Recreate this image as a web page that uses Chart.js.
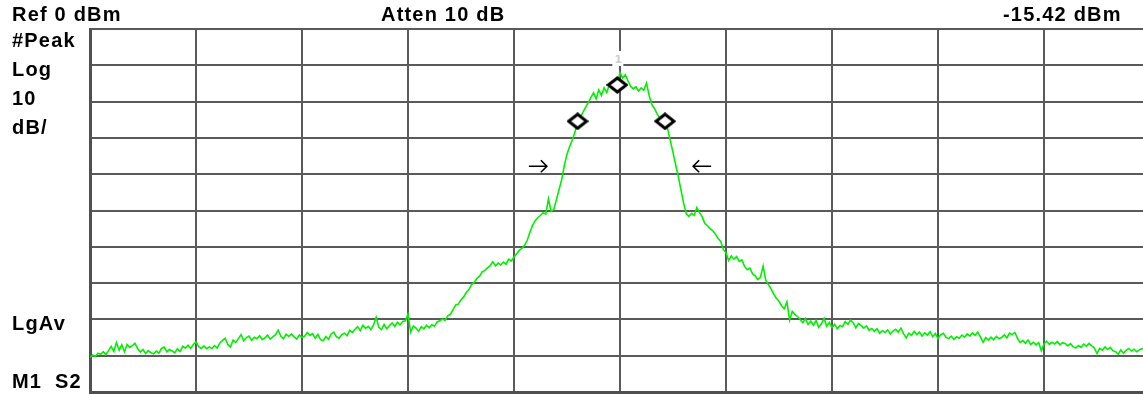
<!DOCTYPE html>
<html>
<head>
<meta charset="utf-8">
<title>Spectrum trace</title>
<script src="https://cdn.jsdelivr.net/npm/chart.js@4.4.1/dist/chart.umd.min.js"></script>
<style>
  html, body { margin: 0; padding: 0; background: #ffffff; overflow: hidden; }
  #wrap { position: relative; width: 1160px; height: 402px; }
  canvas { display: block; }
</style>
</head>
<body>
<div id="wrap"><canvas id="spec" width="1160" height="402"></canvas></div>
<script>
// Display settings: reference level at the top graticule, 10 dB per division
const refLevelDbm = 0;
const dbPerDiv = 10;
const verticalDivs = 10;
const horizontalDivs = 10;
const tracePoints = 401;

// Trace amplitude (dBm) for each of the 401 sweep points, left to right
const traceDbm = [
  // division 1
  -90.5, -89.8, -90.2, -89.3, -89.6, -88.9, -89.7, -88.6, -87.4, -88.8,
  -86.4, -88.5, -87.0, -88.9, -86.9, -87.7, -87.2, -86.6, -88.1, -89.0,
  -88.3, -89.4, -88.6, -89.2, -89.5, -88.7, -89.3, -88.0, -87.6, -88.9,
  -88.3, -88.7, -89.2, -88.1, -88.8, -87.4, -87.9, -87.1, -88.0, -86.9,
  // division 2
  -86.2, -87.5, -88.0, -87.3, -88.1, -87.6, -88.0, -87.2, -87.9, -86.5,
  -85.8, -85.2, -86.9, -87.6, -85.7, -86.4, -85.3, -84.2, -85.9, -85.0,
  -84.6, -85.8, -84.9, -85.3, -84.5, -85.6, -85.1, -84.3, -85.4, -84.8,
  -84.2, -83.0, -84.6, -85.3, -84.1, -84.7, -84.0, -84.8, -85.4, -84.3,
  // division 3
  -85.0, -84.6, -83.6, -84.4, -83.9, -85.2, -84.1, -85.6, -85.9, -84.7,
  -85.5, -84.0, -83.5, -84.8, -85.2, -84.2, -83.8, -84.5, -83.0, -83.6,
  -82.7, -82.0, -83.1, -81.6, -82.5, -81.9, -82.8, -81.5, -79.4, -82.2,
  -82.8, -81.4, -82.6, -81.7, -81.0, -81.9, -80.8, -81.5, -80.6, -80.4,
  // division 4
  -78.6, -83.5, -81.8, -82.4, -83.3, -82.0, -82.6, -81.6, -82.3, -81.5,
  -81.9, -80.7, -80.4, -79.9, -80.3, -79.0, -78.6, -77.3, -76.0, -75.8,
  -74.6, -73.8, -72.6, -71.8, -70.4, -69.8, -68.7, -68.1, -66.9, -66.5,
  -65.8, -65.2, -64.1, -65.3, -64.5, -65.0, -64.2, -64.8, -63.4, -63.9,
  // division 5
  -62.8, -61.9, -61.0, -60.4, -59.6, -58.2, -56.0, -54.1, -52.8, -52.0,
  -51.3, -50.6, -51.0, -46.8, -50.2, -49.8, -47.0, -44.2, -41.5, -37.6,
  -34.5, -32.4, -30.6, -28.4, -25.42, -24.3, -23.0, -21.6, -20.3, -18.9,
  -17.6, -19.2, -16.8, -18.3, -16.2, -17.5, -15.3, -16.4, -14.2, -15.42,
  // division 6
  -12.0, -13.5, -12.6, -14.3, -15.8, -16.5, -15.9, -17.1, -16.2, -16.9,
  -14.9, -18.3, -20.8, -21.9, -23.4, -24.5, -25.0, -25.42, -27.6, -30.8,
  -34.0, -37.4, -40.6, -44.3, -47.9, -50.9, -51.6, -50.8, -51.3, -49.2,
  -50.6, -51.7, -53.6, -54.2, -55.0, -55.6, -56.5, -57.7, -58.5, -60.8,
  // division 7
  -61.6, -63.8, -62.5, -63.4, -62.7, -64.0, -63.6, -65.4, -66.3, -65.9,
  -67.4, -68.0, -69.0, -68.4, -65.3, -69.2, -70.4, -71.6, -73.0, -74.2,
  -75.0, -76.3, -77.1, -75.2, -80.2, -77.8, -78.6, -79.2, -80.0, -80.9,
  -79.8, -81.4, -80.5, -81.6, -80.3, -82.2, -81.2, -79.7, -81.9, -80.8,
  // division 8
  -82.3, -81.3, -82.6, -81.7, -82.0, -80.6, -81.4, -80.2, -80.9, -82.3,
  -81.1, -81.7, -82.4, -81.8, -83.0, -82.5, -83.3, -82.6, -83.8, -83.1,
  -83.6, -82.9, -84.0, -83.2, -82.7, -83.5, -82.4, -83.9, -85.1, -83.8,
  -84.4, -83.3, -84.2, -83.5, -84.6, -83.7, -84.3, -83.4, -84.8, -83.9,
  // division 9
  -85.3, -84.2, -83.8, -84.9, -85.3, -84.6, -85.5, -84.8, -85.2, -84.3,
  -84.9, -84.0, -84.6, -83.7, -84.4, -83.5, -84.8, -86.3, -85.0, -85.7,
  -84.9, -85.6, -84.7, -85.3, -85.0, -84.3, -85.1, -83.8, -84.2, -83.6,
  -85.2, -86.4, -85.8, -86.6, -85.7, -86.9, -86.3, -87.0, -86.4, -88.6,
  // division 10
  -86.8, -86.0, -86.9, -86.3, -86.8, -86.1, -87.0, -86.4, -86.6, -87.3,
  -86.7, -87.5, -87.9, -87.2, -87.7, -86.8, -87.4, -86.6, -87.3, -87.9,
  -89.4, -88.0, -88.5, -87.6, -88.3, -87.7, -88.6, -88.9, -89.6, -88.4,
  -89.3, -88.5, -88.0, -88.7, -88.2, -88.9, -88.4, -88.0, -88.6, -88.3,
  -88.9
];

// Markers: M1 on the peak, plus the two points 10 dB below it
const markerIndex = [199, 184, 217];
const markerDbm = [-15.42, -25.42, -25.42];
const markerNumberLabel = '1';

// Bandwidth arrows (sweep point, level, pointing direction)
const arrowIndex = [169, 231];
const arrowDbm = [-37.8, -37.8];
const arrowDirection = [1, -1];

// Annotation text around the graticule
const topTexts = [
  { text: 'Ref 0 dBm', x: 12 },
  { text: 'Atten 10 dB', x: 381 },
  { text: '-15.42 dBm', x: 1003 }
];
const sideTexts = [
  { text: '#Peak', x: 12, y: 46.5 },
  { text: 'Log', x: 12, y: 75.5 },
  { text: '10', x: 12, y: 104.5 },
  { text: 'dB/', x: 12, y: 134 },
  { text: 'LgAv', x: 12, y: 330 },
  { text: 'M1', x: 12, y: 388 },
  { text: 'S2', x: 55, y: 388 }
];

const labelFont = 'bold 20px "Liberation Sans", Arial, sans-serif';

// Diamond marker glyph, a little wider than tall like the analyzer's marker
function makeDiamond(w, h, lw) {
  const c = document.createElement('canvas');
  c.width = w; c.height = h;
  const g = c.getContext('2d');
  const p = lw / 2 + 0.5;
  g.beginPath();
  g.moveTo(p, h / 2);
  g.lineTo(w / 2, p);
  g.lineTo(w - p, h / 2);
  g.lineTo(w / 2, h - p);
  g.closePath();
  g.fillStyle = '#ffffff';
  g.fill();
  g.lineWidth = lw;
  g.strokeStyle = '#000000';
  g.lineJoin = 'miter';
  g.stroke();
  return c;
}
const diamondGlyph = makeDiamond(22, 18, 3);

const screenText = {
  id: 'screenText',
  afterDraw(chart) {
    const ctx = chart.ctx;
    ctx.save();
    ctx.fillStyle = '#000';
    ctx.font = labelFont;
    ctx.textBaseline = 'alphabetic';
    ctx.textAlign = 'left';
    if ('letterSpacing' in ctx) ctx.letterSpacing = '1.2px';
    topTexts.forEach(t => ctx.fillText(t.text, t.x, 21));
    sideTexts.forEach(t => ctx.fillText(t.text, t.x, t.y));
    ctx.restore();
  }
};

const markerDecor = {
  id: 'markerDecor',
  afterDatasetsDraw(chart) {
    const ctx = chart.ctx;
    const xs = chart.scales.x, ys = chart.scales.y;
    ctx.save();
    // bandwidth arrows
    ctx.strokeStyle = '#000';
    ctx.lineWidth = 1.6;
    arrowIndex.forEach((xi, k) => {
      const cx = xs.getPixelForValue(xi);
      const cy = ys.getPixelForValue(arrowDbm[k]);
      const d = arrowDirection[k];
      const tip = cx + d * 9;
      ctx.beginPath();
      ctx.moveTo(cx - d * 9, cy);
      ctx.lineTo(tip, cy);
      ctx.moveTo(tip - d * 6, cy - 6);
      ctx.lineTo(tip, cy);
      ctx.lineTo(tip - d * 6, cy + 6);
      ctx.stroke();
    });
    // marker number above M1
    const mx = xs.getPixelForValue(markerIndex[0]);
    const my = ys.getPixelForValue(markerDbm[0]);
    ctx.fillStyle = '#ffffff';
    ctx.fillRect(mx - 5, my - 34, 11, 15);
    ctx.fillStyle = '#cfcfcf';
    ctx.font = 'bold 11px "DejaVu Sans", sans-serif';
    ctx.textAlign = 'center';
    ctx.textBaseline = 'alphabetic';
    ctx.fillText(markerNumberLabel, mx + 1, my - 22);
    ctx.restore();
  }
};

const whiteBackground = {
  id: 'whiteBackground',
  beforeDraw(chart) {
    const ctx = chart.ctx;
    ctx.save();
    ctx.fillStyle = '#ffffff';
    ctx.fillRect(0, 0, chart.width, chart.height);
    ctx.restore();
  }
};

const gridColor = '#5a5a5a';

new Chart(document.getElementById('spec'), {
  type: 'line',
  data: {
    datasets: [
      {
        label: 'Markers',
        data: markerIndex.map((xi, k) => ({ x: xi, y: markerDbm[k] })),
        showLine: false,
        pointStyle: diamondGlyph,
        pointRadius: 9,
        order: 0
      },
      {
        label: 'Trace',
        data: traceDbm.map((v, i) => ({ x: i, y: v })),
        borderColor: '#00f000',
        borderWidth: 1.6,
        pointRadius: 0,
        tension: 0,
        fill: false,
        order: 1
      }
    ]
  },
  options: {
    responsive: false,
    animation: false,
    events: [],
    layout: { padding: { left: 90, top: 29, right: 10, bottom: 3 } },
    plugins: { legend: { display: false }, tooltip: { enabled: false } },
    scales: {
      x: {
        type: 'linear',
        min: 0,
        max: tracePoints - 1,
        ticks: { display: false, stepSize: (tracePoints - 1) / horizontalDivs },
        grid: { color: gridColor, lineWidth: 2, drawTicks: false },
        border: { color: '#505050', width: 3 },
        afterFit(s) { s.height = 0; }
      },
      y: {
        type: 'linear',
        min: refLevelDbm - dbPerDiv * verticalDivs,
        max: refLevelDbm,
        ticks: { display: false, stepSize: dbPerDiv },
        grid: { color: gridColor, lineWidth: 2, drawTicks: false },
        border: { color: '#505050', width: 3 },
        afterFit(s) { s.width = 0; }
      }
    }
  },
  plugins: [whiteBackground, markerDecor, screenText]
});
</script>
</body>
</html>
